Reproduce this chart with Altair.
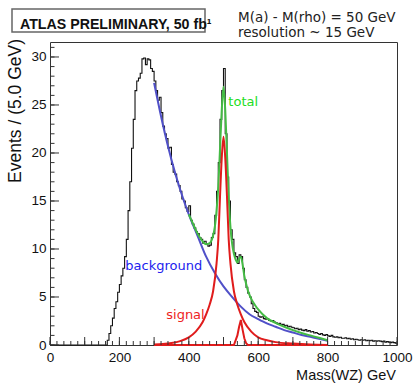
import altair as alt
import pandas as pd

# ---------------- data ----------------
bin_width = 5
first_bin = 0
# events per 5 GeV bin, bins starting at 0,5,...,995
hist_counts = [
    0, 0, 0, 0, 0, 0, 0, 0, 0, 0,            # 0-45
    0, 0, 0, 0, 0, 0, 0, 0, 0, 0,            # 50-95
    0, 0, 0, 0, 0, 0, 0, 0, 0, 0,            # 100-145
    0, 0, 0, 0.5, 1.2, 2.0, 2.8, 3.8, 4.5, 5.5,   # 150-195
    6.3, 7.2, 8.0, 9.2, 11.0, 14.0, 17.0, 20.5, 23.5, 26.5,   # 200-245
    27.5, 27.8, 28.3, 29.8, 29.9, 29.2, 29.8, 29.7, 28.8, 28.5,   # 250-295
    27.5, 26.5, 25.5, 25.8, 24.2, 22.8, 22.0, 21.5, 20.5, 20.6,   # 300-345
    18.8, 18.0, 17.8, 17.0, 16.6, 16.0, 15.2, 15.0, 14.3, 13.9,   # 350-395
    14.5, 13.0, 12.6, 12.2, 11.8, 11.6, 11.2, 11.0, 10.6, 10.8,   # 400-445
    10.5, 10.3, 10.4, 11.2, 11.6, 13.5, 16.0, 19.0, 23.5, 26.5,   # 450-495
    28.8, 22.0, 17.5, 15.0, 12.0, 11.0, 9.6, 9.2, 8.5, 9.4,       # 500-545
    9.2, 8.0, 6.8, 6.0, 5.4, 5.0, 4.3, 3.8, 3.5, 3.4,             # 550-595
    3.0, 2.9, 2.95, 2.75, 2.7, 2.75, 2.55, 2.5, 2.55, 2.4,        # 600-645
    2.3, 2.2, 2.25, 2.1, 2.15, 2.0, 2.05, 1.9, 1.95, 1.85,        # 650-695
    1.8, 1.7, 1.75, 1.6, 1.65, 1.55, 1.5, 1.6, 1.45, 1.5,         # 700-745
    1.35, 1.4, 1.25, 1.3, 1.2, 1.1, 1.2, 1.05, 1.0, 1.1,          # 750-795
    0.95, 0.9, 1.0, 0.85, 0.8, 0.85, 0.75, 0.8, 0.7, 0.7,         # 800-845
    0.75, 0.65, 0.7, 0.6, 0.65, 0.55, 0.6, 0.55, 0.5, 0.55,       # 850-895
    0.5, 0.55, 0.45, 0.5, 0.45, 0.5, 0.4, 0.45, 0.4, 0.45,        # 900-945
    0.4, 0.35, 0.4, 0.3, 0.35, 0.3, 0.25, 0.3, 0.25, 0.2,         # 950-995
]

bkg_mass = [300, 325, 350, 375, 400, 425, 450, 475, 500, 525, 550, 575,
            600, 625, 650, 675, 700, 725, 750, 775, 800]
bkg_vals = [27.3, 23.0, 19.3, 16.2, 13.6, 11.4, 9.2, 7.5, 6.1, 5.0, 4.0, 3.2,
            2.7, 2.25, 1.9, 1.55, 1.3, 1.05, 0.85, 0.65, 0.45]

sig1_mass = [300, 325, 350, 375, 400, 420, 440, 450, 460, 470, 480, 485, 490, 495,
             500, 505, 510, 515, 520, 530, 540, 550, 560, 580, 600, 625, 650,
             700, 750, 800]
sig1_vals = [0.05, 0.1, 0.2, 0.4, 0.8, 1.4, 2.4, 3.2, 4.2, 5.6, 8.5, 11.0, 15.5, 19.5,
             21.7, 19.5, 15.5, 11.0, 8.5, 5.6, 4.2, 3.2, 2.4, 1.4, 0.8, 0.5, 0.3,
             0.15, 0.05, 0.0]

sig2_mass = [300, 500, 530, 540, 545, 550, 555, 560, 565, 570, 600, 800]
sig2_vals = [0, 0, 0, 1.0, 1.9, 2.6, 1.6, 0.7, 0.2, 0, 0, 0]

tot_mass = [400, 410, 420, 430, 440, 450, 460, 470, 475, 480, 485, 490, 495, 500,
            505, 510, 515, 520, 525, 530, 535, 540, 545, 550, 555, 560, 565, 570,
            580, 590, 600, 625, 650, 675, 700, 725, 750, 775, 800]
tot_vals = [13.6, 12.8, 12.0, 11.3, 10.8, 10.5, 10.6, 11.4, 12.3, 14.0, 16.5, 20.5,
            24.5, 26.9, 24.5, 20.0, 15.5, 12.3, 10.5, 9.5, 8.9, 8.6, 9.0, 9.2, 8.4,
            7.2, 6.4, 5.7, 4.8, 4.2, 3.7, 2.8, 2.3, 1.9, 1.55, 1.25, 1.0, 0.75, 0.5]

x_major = list(range(0, 1001, 100))
x_minor = list(range(0, 1001, 20))
y_major = [0, 5, 10, 15, 20, 25, 30]
y_minor = list(range(0, 32, 1))

labels_text = ["total", "background", "signal"]
labels_x = [514, 217, 335]
labels_y = [25.3, 8.2, 3.1]
labels_color = ["#22dd22", "#2222ee", "#ee2222"]

# ---------------- tables ----------------
edges = [first_bin + i * bin_width for i in range(len(hist_counts))]
hist_df = pd.DataFrame({"m": edges + [edges[-1] + bin_width],
                        "n": hist_counts + [hist_counts[-1]]})
bkg_df = pd.DataFrame({"m": bkg_mass, "n": bkg_vals})
sig1_df = pd.DataFrame({"m": sig1_mass, "n": sig1_vals})
sig2_df = pd.DataFrame({"m": sig2_mass, "n": sig2_vals})
tot_df = pd.DataFrame({"m": tot_mass, "n": tot_vals})
lab_df = pd.DataFrame({"t": labels_text, "m": labels_x, "n": labels_y, "c": labels_color})

W, H = 347, 303
XS = alt.Scale(domain=[0, 1000], nice=False, zero=False)
YS = alt.Scale(domain=[0, 31.56], nice=False, zero=False)
TICKFONT = "Liberation Sans, Arial"

xaxis = alt.Axis(values=x_major, format="d", ticks=False, domain=False, grid=False,
                 labelFont=TICKFONT, labelFontSize=13.5, labelColor="#111", labelPadding=5,
                 title=None, labelFlush=False)
yaxis = alt.Axis(values=y_major, format="d", ticks=False, domain=False, grid=False,
                 labelFont=TICKFONT, labelFontSize=13.5, labelColor="#111", labelPadding=4,
                 title=None)

hist = alt.Chart(hist_df).mark_line(interpolate="step-after", color="#111", strokeWidth=1.1).encode(
    x=alt.X("m:Q", scale=XS, axis=xaxis),
    y=alt.Y("n:Q", scale=YS, axis=yaxis),
)

def curve(df, color, interp="monotone"):
    return alt.Chart(df).mark_line(color=color, strokeWidth=2, interpolate=interp).encode(
        x=alt.X("m:Q", scale=XS), y=alt.Y("n:Q", scale=YS))

bkg = curve(bkg_df, "#5050c8")
tot = curve(tot_df, "#44bb44")
sig1 = curve(sig1_df, "#e01c1c")
sig2 = curve(sig2_df, "#e01c1c", "linear")

xmaj = alt.Chart(pd.DataFrame({"m": x_major})).mark_rule(color="#333", strokeWidth=1).encode(
    x=alt.X("m:Q", scale=XS), y=alt.value(H), y2=alt.value(H - 8))
xmin = alt.Chart(pd.DataFrame({"m": x_minor})).mark_rule(color="#333", strokeWidth=1).encode(
    x=alt.X("m:Q", scale=XS), y=alt.value(H), y2=alt.value(H - 4))
ymaj = alt.Chart(pd.DataFrame({"n": y_major})).mark_rule(color="#333", strokeWidth=1).encode(
    y=alt.Y("n:Q", scale=YS), x=alt.value(0), x2=alt.value(9))
ymin = alt.Chart(pd.DataFrame({"n": y_minor})).mark_rule(color="#333", strokeWidth=1).encode(
    y=alt.Y("n:Q", scale=YS), x=alt.value(0), x2=alt.value(4.5))

labels = alt.Chart(lab_df).mark_text(font="DejaVu Sans", fontSize=13, align="left",
                                     baseline="middle").encode(
    x=alt.X("m:Q", scale=XS), y=alt.Y("n:Q", scale=YS),
    text="t:N", color=alt.Color("c:N", scale=None))

box = alt.Chart(pd.DataFrame({"k": [0]})).mark_rect(fill="white", stroke="#666", strokeWidth=1.5).encode(
    x=alt.value(-38), x2=alt.value(155), y=alt.value(-33), y2=alt.value(-10))
atlas = alt.Chart(pd.DataFrame({"t": ["ATLAS PRELIMINARY, 50 fb\u00b9"]})).mark_text(
    font="Liberation Sans, Arial", fontWeight="bold", fontSize=14.2,
    align="left", baseline="alphabetic", color="#111").encode(
    x=alt.value(-30), y=alt.value(-13.5), text="t:N")
info = alt.Chart(pd.DataFrame({"t": ["M(a) - M(rho) = 50 GeV", "resolution ~ 15 GeV"],
                               "yy": [-20.5, -5.5]})).mark_text(
    font="DejaVu Sans", fontSize=13.5, align="left", baseline="alphabetic", color="#222").encode(
    x=alt.value(188), y=alt.Y("yy:Q", scale=None), text="t:N")
ytitle = alt.Chart(pd.DataFrame({"t": ["Events / (5.0 GeV)"]})).mark_text(
    font="Liberation Sans, Arial", fontSize=17.5, angle=270, align="right", baseline="middle",
    color="#111").encode(x=alt.value(-34), y=alt.value(-3), text="t:N")
xtitle = alt.Chart(pd.DataFrame({"t": ["Mass(WZ) GeV"]})).mark_text(
    font="Liberation Sans, Arial", fontSize=14.5, align="right", baseline="alphabetic",
    color="#111").encode(x=alt.value(346), y=alt.value(338), text="t:N")

chart = alt.layer(hist, bkg, tot, sig1, sig2, xmin, xmaj, ymin, ymaj, labels,
                  box, atlas, info, ytitle, xtitle).properties(
    width=W, height=H,
    autosize=alt.AutoSizeParams(type="none"),
    padding={"left": 50, "top": 42, "right": 16, "bottom": 38},
    background="white",
).configure_view(stroke="#333", strokeWidth=1)

chart.save("out.html", embed_options={"renderer": "svg", "actions": False})
